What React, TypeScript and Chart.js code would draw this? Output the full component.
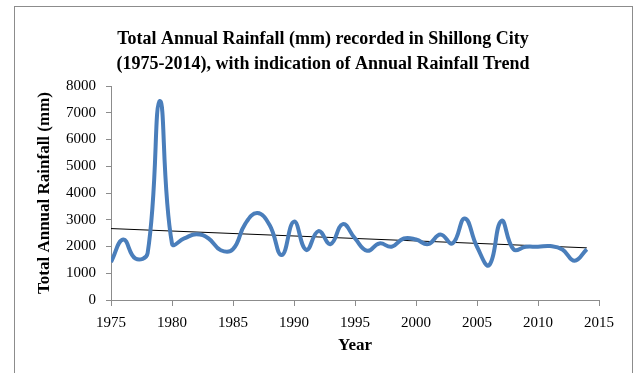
import React, { useEffect, useRef } from "react";
import { Chart, registerables } from "chart.js";

Chart.register(...registerables);

const years = [1975,1976,1977,1978,1979,1980,1981,1982,1983,1984,1985,1986,1987,1988,1989,1990,1991,1992,1993,1994,1995,1996,1997,1998,1999,2000,2001,2002,2003,2004,2005,2006,2007,2008,2009,2010,2011,2012,2013,2014];
const rainfall = [1420,2260,1550,1750,7440,2110,2300,2460,2300,1860,1900,2850,3250,2800,1680,2930,1870,2575,2090,2836,2300,1840,2115,1990,2300,2260,2090,2450,2115,3050,1990,1305,2960,1890,1990,1990,2015,1890,1470,1900];
const trendYears = [1975, 2014];
const trendValues = [2670, 1950];
const yTicks = [0, 1000, 2000, 3000, 4000, 5000, 6000, 7000, 8000];
const xTicks = [1975, 1980, 1985, 1990, 1995, 2000, 2005, 2010, 2015];
const titleLines = [
  "Total Annual Rainfall (mm) recorded in Shillong City",
  "(1975-2014), with indication of Annual Rainfall Trend",
];

const FONT = "'Liberation Serif', 'Times New Roman', serif";

const titlePlugin = {
  id: "boxTitle",
  afterDraw(chart: any) {
    const ctx = chart.ctx;
    ctx.save();
    ctx.font = `bold 18px ${FONT}`;
    ctx.fillStyle = "#000";
    ctx.textAlign = "center";
    ctx.textBaseline = "middle";
    const cx = (chart.width + 14 - 7) / 2;
    titleLines.forEach((line, i) => ctx.fillText(line, cx, 39 + i * 25));
    ctx.restore();
  },
};

export default function App() {
  const ref = useRef<HTMLCanvasElement | null>(null);
  useEffect(() => {
    if (!ref.current) return;
    const chart = new Chart(ref.current, {
      type: "line",
      data: {
        datasets: [
          {
            label: "Rainfall",
            data: years.map((y, i) => ({ x: y, y: rainfall[i] })),
            borderColor: "#4a7ebb",
            borderWidth: 4,
            pointRadius: 0,
            tension: 0.45,
            fill: false,
          },
          {
            label: "Trend",
            data: trendYears.map((y, i) => ({ x: y, y: trendValues[i] })),
            borderColor: "#000000",
            borderWidth: 1,
            pointRadius: 0,
            tension: 0,
            fill: false,
          },
        ],
      },
      plugins: [titlePlugin],
      options: {
        animation: false,
        responsive: false,
        layout: { padding: { left: 34, top: 86, right: 40, bottom: 17 } },
        plugins: {
          legend: { display: false },
          tooltip: { enabled: false },
          title: { display: false },
        },
        scales: {
          x: {
            type: "linear",
            min: 1975,
            max: 2015,
            afterBuildTicks: (s: any) => {
              s.ticks = xTicks.map((v) => ({ value: v }));
            },
            afterFit: (s: any) => {
              s.height = 56;
            },
            grid: {
              display: true,
              drawOnChartArea: false,
              drawTicks: true,
              tickLength: 6,
              color: "#8c8c8c",
            },
            border: { display: true, color: "#8c8c8c", width: 1 },
            ticks: {
              color: "#000",
              font: { family: FONT, size: 15 },
              padding: 8,
              maxRotation: 0,
              callback: (v: any) => String(v),
            },
            title: {
              display: true,
              text: "Year",
              color: "#000",
              font: { family: FONT, size: 17, weight: "bold" },
              padding: { top: 0, bottom: 0 },
            },
          },
          y: {
            min: 0,
            max: 8000,
            afterBuildTicks: (s: any) => {
              s.ticks = yTicks.map((v) => ({ value: v }));
            },
            afterFit: (s: any) => {
              s.width = 111 - 34;
            },
            grid: {
              display: true,
              drawOnChartArea: false,
              drawTicks: true,
              tickLength: 5,
              color: "#8c8c8c",
            },
            border: { display: true, color: "#8c8c8c", width: 1 },
            ticks: {
              color: "#000",
              font: { family: FONT, size: 15 },
              padding: 10,
              callback: (v: any) => String(v),
            },
            title: {
              display: true,
              text: "Total Annual Rainfall (mm)",
              color: "#000",
              font: { family: FONT, size: 17, weight: "bold" },
              padding: { top: 0, bottom: 0 },
            },
          },
        },
      },
    });
    return () => chart.destroy();
  }, []);

  return (
    <div style={{ position: "absolute", left: 0, top: 0, width: 639, height: 373, background: "#fff", overflow: "hidden" }}>
      <div
        style={{
          position: "absolute",
          left: 14,
          top: 6,
          width: 617,
          height: 400,
          border: "1px solid #8c8c8c",
        }}
      />
      <canvas ref={ref} width={639} height={373} style={{ position: "absolute", left: 0, top: 0 }} />
    </div>
  );
}
